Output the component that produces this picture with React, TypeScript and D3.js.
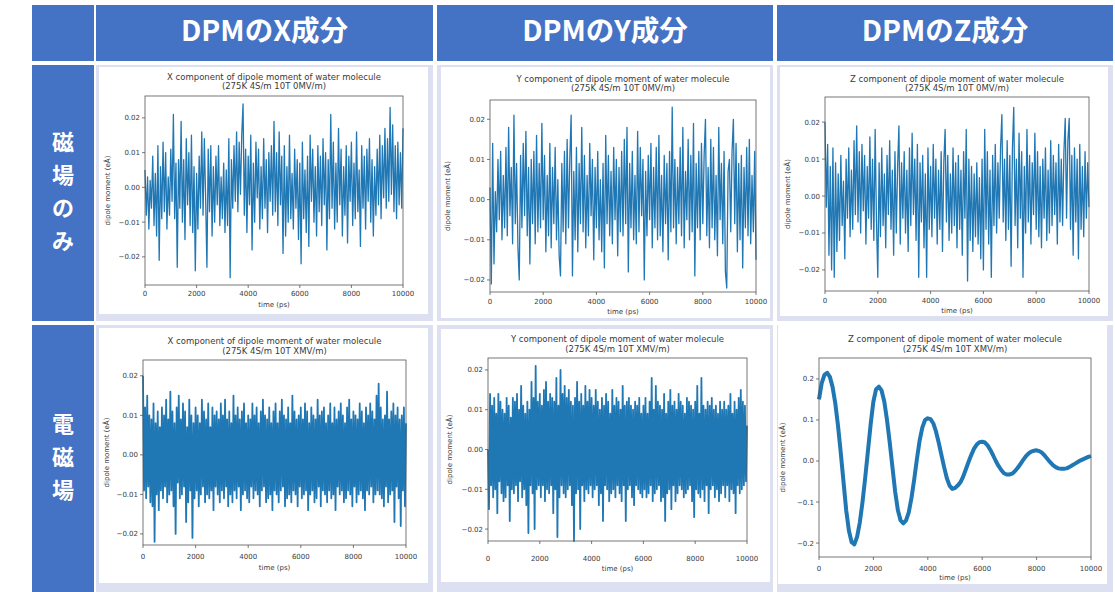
import * as d3 from 'd3'

// table text
const headers = ['DPMのX成分', 'DPMのY成分', 'DPMのZ成分']
const rowLabels = ['磁場のみ', '電磁場']
const comps = ['X', 'Y', 'Z']
const fields = ['0MV/m', 'XMV/m']

const xTicks = [0, 2000, 4000, 6000, 8000, 10000]
const smallTicks = [-0.02, -0.01, 0, 0.01, 0.02]
const bigTicks = [-0.2, -0.1, 0, 0.1, 0.2]

// dipole moment series, in units of 0.001 eÅ
// magnetic field only: one sample every 50 ps
const xMag = [
	5, -8, 3, -12, 2, -6, 9, -11, 4, -14, 12, -21, 6, -9, 13, -7, 10, -12, 3, -8,
	11, -4, 21, -9, 7, -23, 8, -6, 19, -10, 8, -15, 14, -5, 10, -11, 15, -13, 6, -24,
	4, -12, 9, -6, 16, -8, 14, -3, -23, 11, -7, 12, -14, 6, -10, 9, -5, 12, -11, 3,
	-9, 7, -13, 5, -11, 14, -26, 8, -6, 12, -4, 16, -7, 13, -2, 15, 24, -8, 11, -13,
	9, -5, 15, -18, 7, -10, 13, -3, 11, -12, 6, -9, 14, -6, 8, -13, 10, -4, 12, -8,
	19, -7, 10, -11, 16, -5, 9, -19, 12, -14, 6, -10, 15, -9, 4, -12, 11, -6, 8, -15,
	7, -22, 13, -9, 5, -13, 9, -17, 15, -4, 11, -10, 6, -14, 12, -7, 9, -11, 14, -5,
	10, -18, 8, -9, 21, -6, 13, -12, 7, -10, 17, -5, 11, -14, 6, -8, 12, -16, 9, -4,
	13, -11, 7, -9, 16, -7, 5, -17, 12, -6, 9, -12, 11, -4, 14, -10, 8, -14, 6, -8,
	11, -5, 15, -9, 12, -3, 17, -6, 14, -4, 23, -2, 18, -7, 12, -9, 13, -5, 10, -6,
	17,
]
const yMag = [
	3, -21, 14, -16, 2, -8, 10, -5, 12, -10, 6, -7, 13, -9, 18, -4, 8, -11, 21, -6,
	9, -12, -20, 11, -7, 14, -4, 17, -9, 8, -16, 10, -6, 12, -11, 16, -8, 9, -7, 19,
	-5, 11, -13, 6, -9, 14, -12, 8, -6, 13, -10, 5, -14, -19, 9, -8, 12, -11, 15, -7,
	10, 21, -19, 7, -10, 13, -13, 9, -6, 18, -8, 11, -12, 6, -9, 14, -4, 10, -15, 8,
	-7, 12, -10, 5, -13, 9, -17, 16, -6, 11, -9, 7, -11, 13, -5, 10, -14, 8, -8, 12,
	-9, 15, -6, 18, -18, 9, -7, 12, -10, 6, -11, 17, -8, 13, -4, 10, -20, 7, -9, 11,
	-5, 14, -12, 8, -7, 13, -10, 16, -9, 6, -13, 11, -6, 9, -15, 12, -8, 23, -7, 10,
	-11, 8, -6, 13, -9, 18, -12, 7, -5, 15, -10, 11, -8, 19, -19, 9, -7, 12, -10, 14,
	-6, 11, 20, -9, 8, -12, 15, -7, 13, -10, 6, -14, 18, -5, 9, -11, 12, -18, -22, 7,
	10, -8, 12, 20, -6, 14, -13, 9, -10, 11, -17, 8, -7, 13, -9, 15, -11, 6, -8, 12,
	-15,
]
const zMag = [
	20, -3, 14, -16, 8, -20, 13, -22, 9, -15, 6, -12, 11, -8, 4, -17, 10, -6, 13, -11,
	7, -9, 15, -5, 19, -7, 12, -10, 14, -4, 11, -13, 8, -6, 16, -9, 10, -12, 18, -7,
	-22, 9, -11, 13, -8, 6, -14, 11, -5, 15, -9, 7, -16, 12, -10, 8, 19, -13, 9, -6,
	12, -10, 7, -15, 13, -8, 17, -5, 10, -12, 14, -22, 9, -7, 11, -14, 6, -22, 13, -9,
	8, -11, 14, -6, 10, -13, 7, -9, 12, -15, 9, 18, -7, 11, -12, 6, -10, 13, -8, 9,
	-14, 11, -9, 7, -16, 12, -6, 18, -23, 10, -12, 8, -15, 6, -11, 9, -13, 5, -17, 10,
	-20, 18, -9, 12, -13, 7, -22, 11, -8, 14, -10, 9, -6, 13, 22, -7, 10, -12, 15, -9,
	11, -19, 13, 24, -8, 10, -14, 17, -6, 12, -22, 8, -10, 18, -7, 11, -13, 9, -5, 17,
	-9, 12, -11, 8, -14, 10, -6, 13, -12, 7, -10, 15, -8, 11, -5, 9, -13, 14, -7, 10,
	-8, 12, 21, -6, 15, 21, -9, 11, -16, 13, -7, 10, -17, 14, -9, 8, -11, 12, -6, 9,
	-3,
]

// electric + magnetic field: one sample every 40 ps
const xEM = [
	20, -9, 12, -11, 15, -8, 10, -12, 9, -13, 13, -22, 8, -10, 11, -14, 7, -9, 12, -11, 10, -8, 14, -12, 9,
	-10, 16, -9, 11, -13, 8, -20, 12, -7, 15, -11, 9, -10, 13, -8, 11, -17, 7, -12, 14, -9, 10, -21, 8, -11,
	12, -9, 10, -13, 8, -10, 14, -8, 11, -12, 9, -10, 13, -11, 7, -9, 12, -14, 10, -8, 11, -10, 9, -12, 13,
	-9, 10, -11, 14, -8, 9, -13, 11, -10, 8, -12, 15, -9, 10, -11, 12, -8, 9, -14, 11, -10, 13, -9, 8, -11,
	10, -12, 9, -8, 13, -11, 10, -9, 12, -10, 8, -13, 11, -9, 14, -8, 10, -12, 9, -11, 12, -10, 8, -14, 11,
	-9, 13, -10, 8, -12, 11, -9, 14, -8, 10, -13, 9, -11, 12, -10, 8, -12, 15, -9, 11, -10, 9, -13, 10, -8,
	12, -11, 9, -10, 13, -9, 11, -14, 8, -10, 12, -9, 10, -12, 9, -11, 14, -8, 10, -13, 11, -9, 12, -10, 8,
	-12, 10, -9, 13, -11, 8, -10, 12, -14, 9, -8, 11, -10, 13, -9, 10, -12, 8, -11, 12, -9, 14, -10, 9, -13,
	11, -8, 10, -12, 9, -10, 13, -9, 11, -11, 8, -14, 12, -9, 10, -10, 13, -8, 11, -12, 9, -10, 15, -9, 18,
	-10, 12, -11, 9, -13, 10, -8, 16, -12, 9, -10, 11, -9, 13, -17, 10, -8, 12, -11, 9, -18, 10, -9, 12, -13,
	8,
]
const yEM = [
	0, -15, 14, -9, 11, -12, 13, -10, 9, -16, 14, -8, 12, -11, 10, -13, 9, -12, 13, -9, 11, -18, 8, -10, 13,
	-11, 12, -9, 14, -13, 10, -8, 16, -12, 11, -10, 9, -14, 12, -21, 10, -9, 17, -11, 13, -20, 21, -10, 12, -9,
	14, -12, 11, -9, 15, -13, 17, -10, 12, -11, 14, -9, 13, -16, 12, -10, 18, -22, 11, -12, 20, -9, 14, -11, 16,
	-12, 13, -10, 15, -9, 12, -14, 11, -23, 13, -11, 17, -10, 12, -20, 14, -9, 11, -13, 16, -10, 12, -11, 15, -9,
	13, -12, 11, -10, 15, -9, 12, -14, 10, -11, 13, -18, 11, -9, 14, -10, 12, -13, 9, -11, 15, -10, 11, -12, 13,
	-9, 12, -11, 10, -13, 16, -9, 11, -18, 12, -10, 13, -9, 11, -12, 10, -14, 12, -9, 11, -10, 13, -11, 9, -12,
	11, -10, 13, -12, 9, -11, 12, -9, 18, -13, 10, -11, 16, -10, 12, -9, 11, -13, 10, -12, 14, -18, 9, -11, 12,
	-10, 15, -15, 11, -9, 12, -13, 10, -11, 14, -9, 12, -10, 11, -12, 9, -11, 13, -10, 12, -9, 11, -13, 10, -17,
	12, -10, 16, -11, 9, -12, 18, -10, 11, -13, 10, -9, 12, -16, 11, -10, 13, -9, 10, -12, 11, -10, 9, -13, 12,
	-11, 10, -9, 12, -12, 10, -9, 11, -13, 14, -10, 9, -11, 12, -16, 10, -9, 13, -11, 15, -10, 12, -9, 11, -8,
	6,
]
// one sample every 100 ps (centre of the noisy band)
const zEM = [
	150, 190, 210, 215, 205, 180, 140, 85, 20, -50,
	-120, -170, -198, -203, -185, -150, -100, -40, 25, 90,
	145, 175, 181, 172, 145, 100, 45, -15, -75, -120,
	-145, -152, -145, -125, -90, -45, 5, 50, 82, 100,
	104, 102, 92, 72, 45, 15, -15, -42, -60, -68,
	-66, -60, -52, -38, -20, -2, 15, 30, 40, 46,
	47, 45, 38, 27, 14, 0, -12, -22, -30, -33,
	-33, -31, -25, -17, -8, 2, 11, 18, 23, 25,
	26, 24, 20, 13, 5, -3, -10, -15, -18, -19,
	-19, -18, -15, -11, -7, -3, 1, 4, 7, 10,
	12,
]

const BLUE = '#4472c4'
const CELL = '#dde0f0'
const LINE = '#1f77b4'
const INK = '#3a3a3a'

type PlotSpec = {
	panel: [number, number, number, number]
	box: [number, number, number, number]
	domain: [number, number]
	values: number[]
	dt: number
	ticks: number[]
	fmt: string
	titles: [number, number]
	xtickY: number
	xlabelY: number
	ylabelX: number
	width: number
	title: string
	sub: string
}

function Plot({ s }: { s: PlotSpec }) {
	const [x0, y0, x1, y1] = s.box
	const x = d3.scaleLinear().domain([0, 10000]).range([x0, x1])
	const y = d3.scaleLinear().domain(s.domain).range([y1, y0])
	const line = d3
		.line<number>()
		.x((_, i) => x(i * s.dt))
		.y(v => y(v / 1000))
	const f = d3.format(s.fmt)
	const cx = (x0 + x1) / 2
	const [px0, py0, px1, py1] = s.panel
	return (
		<g fontFamily="DejaVu Sans, sans-serif" fill={INK}>
			<rect x={px0} y={py0} width={px1 - px0} height={py1 - py0} fill="#fff" />
			<text x={cx} y={s.titles[0]} fontSize={8.5} textAnchor="middle">{s.title}</text>
			<text x={cx} y={s.titles[1]} fontSize={8.5} textAnchor="middle">{s.sub}</text>
			<path d={line(s.values) ?? ''} fill="none" stroke={LINE} strokeWidth={s.width} strokeLinejoin="round" />
			<rect x={x0} y={y0} width={x1 - x0} height={y1 - y0} fill="none" stroke="#555" strokeWidth={0.8} />
			{xTicks.map(t => (
				<g key={t}>
					<line x1={x(t)} x2={x(t)} y1={y1} y2={y1 + 3} stroke="#555" strokeWidth={0.8} />
					<text x={x(t)} y={s.xtickY} fontSize={7} textAnchor="middle">{t}</text>
				</g>
			))}
			{s.ticks.map(t => (
				<g key={t}>
					<line x1={x0 - 3} x2={x0} y1={y(t)} y2={y(t)} stroke="#555" strokeWidth={0.8} />
					<text x={x0 - 5} y={y(t) + 2.5} fontSize={7} textAnchor="end">{f(t)}</text>
				</g>
			))}
			<text x={cx} y={s.xlabelY} fontSize={7} textAnchor="middle">time (ps)</text>
			<text
				transform={`translate(${s.ylabelX},${(y0 + y1) / 2}) rotate(-90)`}
				fontSize={7}
				textAnchor="middle"
				dominantBaseline="middle"
			>
				dipole moment (eÅ)
			</text>
		</g>
	)
}

const colX: [number, number][] = [[96, 433], [437, 773], [777, 1113]]
const rowY: [number, number][] = [[65, 321], [325, 592]]

export default function App() {
	const head = (c: number, r: number) => ({
		title: `${comps[c]} component of dipole moment of water molecule`,
		sub: `(275K 4S/m 10T ${fields[r]})`,
	})
	const specs: PlotSpec[] = [
		{ ...head(0, 0), panel: [99, 67, 428, 314], box: [145, 96, 403, 285], domain: [-0.0281, 0.0263], values: xMag, dt: 50, ticks: smallTicks, fmt: '.2f', titles: [80, 89], xtickY: 296, xlabelY: 307, ylabelX: 108, width: 1.3 },
		{ ...head(1, 0), panel: [441, 67, 770, 318], box: [490, 100, 756, 292], domain: [-0.023, 0.0248], values: yMag, dt: 50, ticks: smallTicks, fmt: '.2f', titles: [82, 91], xtickY: 304, xlabelY: 314, ylabelX: 448, width: 1.3 },
		{ ...head(2, 0), panel: [780, 67, 1108, 316], box: [825, 97, 1089, 291], domain: [-0.0257, 0.0268], values: zMag, dt: 50, ticks: smallTicks, fmt: '.2f', titles: [82, 91], xtickY: 303, xlabelY: 313, ylabelX: 788, width: 1.3 },
		{ ...head(0, 1), panel: [99, 328, 428, 583], box: [143, 360, 406, 545], domain: [-0.0228, 0.024], values: xEM, dt: 40, ticks: smallTicks, fmt: '.2f', titles: [344, 354], xtickY: 559, xlabelY: 570, ylabelX: 107, width: 1.8 },
		{ ...head(1, 1), panel: [441, 329, 770, 582], box: [488, 358, 747, 541], domain: [-0.023, 0.023], values: yEM, dt: 40, ticks: smallTicks, fmt: '.2f', titles: [342, 352], xtickY: 561, xlabelY: 571, ylabelX: 450, width: 1.8 },
		{ ...head(2, 1), panel: [778, 324, 1107, 584], box: [819, 358, 1091, 557], domain: [-0.234, 0.251], values: zEM, dt: 100, ticks: bigTicks, fmt: '.1f', titles: [342, 352], xtickY: 571, xlabelY: 580, ylabelX: 783, width: 4 },
	]

	return (
		<svg width={1115} height={592} style={{ position: 'absolute', left: 0, top: 0 }}>
			<rect width={1115} height={592} fill="#fff" />
			{/* header row */}
			<rect x={32} y={5} width={62} height={56} fill={BLUE} />
			{headers.map((h, i) => (
				<g key={h}>
					<rect x={colX[i][0]} y={5} width={colX[i][1] - colX[i][0]} height={56} fill={BLUE} />
					<text
						x={(colX[i][0] + colX[i][1]) / 2}
						y={41}
						fontSize={28.5}
						fontWeight="bold"
						fill="#fff"
						textAnchor="middle"
						fontFamily="Noto Sans CJK JP, sans-serif"
					>
						{h}
					</text>
				</g>
			))}
			{/* row label cells */}
			{rowLabels.map((lab, r) => {
				const chars = Array.from(lab)
				const mid = (rowY[r][0] + rowY[r][1]) / 2 - 2
				return (
					<g key={lab}>
						<rect x={32} y={rowY[r][0]} width={62} height={rowY[r][1] - rowY[r][0]} fill={BLUE} />
						{chars.map((ch, k) => (
							<text
								key={k}
								x={63}
								y={mid + (k - (chars.length - 1) / 2) * 33 + 8}
								fontSize={22}
								fontWeight="bold"
								fill="#fff"
								textAnchor="middle"
								fontFamily="Noto Sans CJK JP, sans-serif"
							>
								{ch}
							</text>
						))}
					</g>
				)
			})}
			{/* content cells */}
			{rowY.map((ry, r) =>
				colX.map((cx, c) => (
					<rect key={`${r}-${c}`} x={cx[0]} y={ry[0]} width={cx[1] - cx[0]} height={ry[1] - ry[0]} fill={CELL} />
				))
			)}
			{specs.map((s, i) => (
				<Plot key={i} s={s} />
			))}
		</svg>
	)
}
